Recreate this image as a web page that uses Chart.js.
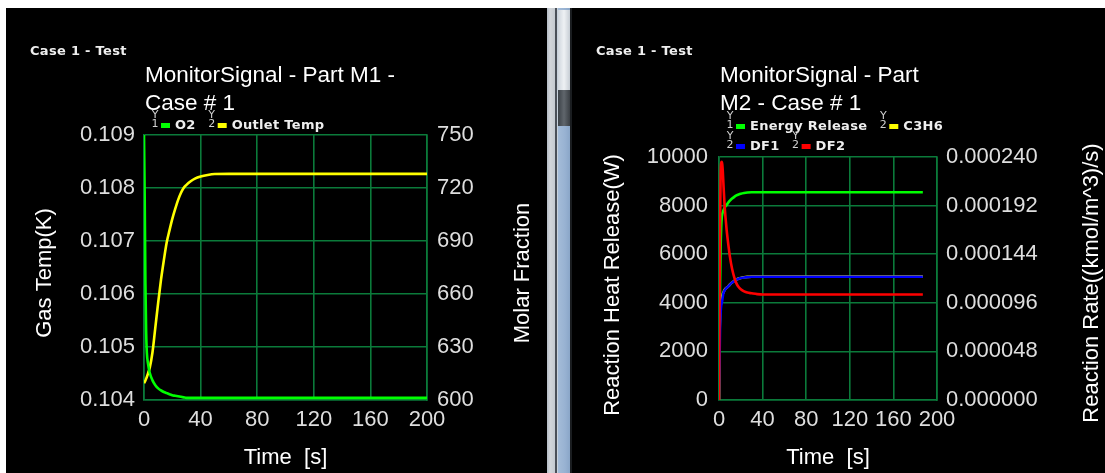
<!DOCTYPE html>
<html>
<head>
<meta charset="utf-8">
<script src="https://cdn.jsdelivr.net/npm/chart.js@4.4.1/dist/chart.umd.min.js"></script>
<style>
  html, body { margin: 0; padding: 0; background: #ffffff; width: 1105px; height: 473px; overflow: hidden; }
  .panel { position: absolute; top: 8px; height: 465px; background: #000000; }
  #panelM1 { left: 6px; width: 541px; }
  #panelM2 { left: 572px; width: 533px; }
  #splitter { position: absolute; left: 547px; top: 8px; width: 25px; height: 465px;
    background: linear-gradient(to right, #b4bcc6 0px, #d2d6da 3px, #c4cad0 8px, #4a5058 8px, #4a5058 10px, #c8d2dc 10px, #c8d2dc 11px, #a4bcd8 11px, #98b2d2 18px, #8aa6c8 23px, #1a1d20 23px); }
  #thumbLight { position: absolute; left: 558px; top: 10px; width: 12px; height: 80px; background: linear-gradient(to right, #cfd6dd, #eef1f4, #c6cdd4); }
  #thumbDark { position: absolute; left: 558px; top: 90px; width: 12px; height: 36px; background: linear-gradient(to right, #3c4248, #60666c, #3a3f44); }
</style>
</head>
<body>
<div id="splitter"></div>
<div id="thumbLight"></div>
<div id="thumbDark"></div>
<div class="panel" id="panelM1"><canvas id="chartM1" width="541" height="465"></canvas></div>
<div class="panel" id="panelM2"><canvas id="chartM2" width="533" height="465"></canvas></div>
<script>
// ---- Part M1 monitor signals ----
const timeM1 = [0, 0.5, 1, 1.5, 2, 3, 4, 6, 8, 10, 12, 14, 16, 18, 20, 22, 24, 26, 28, 30,
                33, 36, 40, 45, 50, 60, 80, 100, 120, 140, 160, 180, 200];
const o2 = [0.10900, 0.10780, 0.10620, 0.10530, 0.10490, 0.10466, 0.10452, 0.10437, 0.10428, 0.10422,
            0.10418, 0.10415, 0.10413, 0.10411, 0.10409, 0.10408, 0.10407, 0.10406, 0.10405, 0.10404,
            0.10404, 0.10404, 0.10404, 0.10404, 0.10404, 0.10404, 0.10404, 0.10404, 0.10404, 0.10404,
            0.10404, 0.10404, 0.10404];
const outletTemp = [609.5, 610.2, 611.0, 612.0, 613.0, 615.5, 618.0, 627.0, 641.0, 655.0,
                    668.0, 679.0, 689.0, 696.0, 702.5, 708.0, 713.0, 717.0, 720.0, 721.8,
                    723.8, 725.3, 726.5, 727.4, 727.9, 728.0, 728.0, 728.0, 728.0, 728.0,
                    728.0, 728.0, 728.0];

// ---- Part M2 monitor signals ----
const timeM2 = [0, 0.5, 1, 1.5, 2, 2.5, 3, 3.5, 4, 5, 6, 7, 8, 10, 12, 14, 16, 18, 20, 23,
                26, 30, 35, 40, 50, 60, 80, 100, 120, 140, 160, 187];
const energyRelease = [0, 2500, 4800, 6300, 7100, 7500, 7650, 7730, 7800, 7900, 7970, 8030, 8090, 8200,
                       8290, 8360, 8420, 8460, 8490, 8520, 8540, 8550, 8550, 8550, 8550, 8550, 8550,
                       8550, 8550, 8550, 8550, 8550];
const c3h6 = [0, 0.000060, 0.000084, 0.000093, 0.000098, 0.000101, 0.000103, 0.000105, 0.000106,
              0.0001085, 0.0001099, 0.0001109, 0.0001117, 0.0001141, 0.0001161, 0.0001176, 0.0001190,
              0.0001200, 0.0001206, 0.0001212, 0.0001216, 0.0001219, 0.0001220, 0.0001220, 0.0001220,
              0.0001220, 0.0001220, 0.0001220, 0.0001220, 0.0001220, 0.0001220, 0.0001220];
const df1 = [0, 0.000040, 0.000072, 0.000086, 0.000093, 0.0000955, 0.0000985, 0.0001022, 0.0001054,
             0.0001080, 0.0001097, 0.0001108, 0.0001116, 0.0001140, 0.0001160, 0.0001174, 0.0001188,
             0.0001198, 0.0001204, 0.0001210, 0.0001214, 0.0001217, 0.0001218, 0.0001218, 0.0001218,
             0.0001218, 0.0001218, 0.0001218, 0.0001218, 0.0001218, 0.0001218, 0.0001218];
const df2 = [0, 0.000096, 0.000180, 0.000223, 0.000234, 0.0002352, 0.0002328, 0.0002256, 0.0002148,
             0.0001944, 0.0001800, 0.0001680, 0.0001584, 0.0001416, 0.0001296, 0.0001212, 0.0001152,
             0.0001116, 0.0001094, 0.0001073, 0.0001061, 0.0001054, 0.0001046, 0.0001042, 0.0001042,
             0.0001042, 0.0001042, 0.0001042, 0.0001042, 0.0001042, 0.0001042, 0.0001042];

// ---- axis ticks ----
const timeTicks = [0, 40, 80, 120, 160, 200];
const m1LeftTicks = [0.104, 0.105, 0.106, 0.107, 0.108, 0.109];
const m1RightTicks = [600, 630, 660, 690, 720, 750];
const m2LeftTicks = [0, 2000, 4000, 6000, 8000, 10000];
const m2RightTicks = [0, 0.000048, 0.000096, 0.000144, 0.000192, 0.000240];

const caseLabel = 'Case 1 - Test';
const headingM1 = ['MonitorSignal - Part M1 -', 'Case # 1'];
const headingM2 = ['MonitorSignal - Part', 'M2 - Case # 1'];

const SANS = '"Liberation Sans", Arial, sans-serif';
const SMALL = '"DejaVu Sans", sans-serif';
const GRID = '#0b7a3a';
const TICK_COLOR = '#dedede';

Chart.defaults.font.family = SANS;

// Draws the case label, the wrapped heading, the axis-tagged legend and the
// bottom-to-top titles of both value axes
const panelText = {
  id: 'panelText',
  afterDraw(chart, args, opts) {
    const ctx = chart.ctx;
    const area = chart.chartArea;
    const sets = chart.data.datasets;
    ctx.save();
    ctx.textBaseline = 'middle';
    ctx.textAlign = 'left';
    ctx.fillStyle = '#eeeeee';
    ctx.font = 'bold 13px ' + SMALL;
    ctx.letterSpacing = '0.3px';
    ctx.fillText(opts.caseLabel, 24, 44);
    ctx.letterSpacing = '0px';

    ctx.fillStyle = '#ffffff';
    ctx.font = '22.5px ' + SANS;
    opts.heading.forEach((line, i) => ctx.fillText(line, area.left + 1, 68 + i * 28));

    opts.legendRows.forEach((row, r) => {
      const y = opts.legendTop + r * 20;
      let x = area.left + 11;
      row.forEach(idx => {
        const ds = sets[idx];
        const axisNo = ds.yAxisID === 'y' ? '1' : '2';
        ctx.letterSpacing = '0px';
        ctx.font = '11px ' + SMALL;
        ctx.textAlign = 'center';
        ctx.fillStyle = '#d0d0d0';
        ctx.fillText('Y', x, y - 11);
        ctx.fillText(axisNo, x, y - 2);
        ctx.fillStyle = ds.borderColor;
        ctx.fillRect(x + 6, y - 3, 9, 5);
        ctx.font = 'bold 13px ' + SMALL;
        ctx.letterSpacing = '0.3px';
        ctx.textAlign = 'left';
        ctx.fillStyle = '#eeeeee';
        ctx.fillText(ds.label, x + 20, y);
        x += 20 + ctx.measureText(ds.label).width + 16;
      });
    });

    ctx.letterSpacing = '0px';
    ctx.font = '22px ' + SANS;
    ctx.fillStyle = '#ffffff';
    ctx.textAlign = 'center';
    opts.axisTitles.forEach(t => {
      ctx.save();
      ctx.translate(t.x, t.y);
      ctx.rotate(-Math.PI / 2);
      ctx.fillText(t.text, 0, 0);
      ctx.restore();
    });
    ctx.restore();
  }
};

function fixedTicks(values) {
  return scale => { scale.ticks = values.map(v => ({ value: v })); };
}

function buildChart(id, cfg) {
  const tickFont = { family: SANS, size: 22 };
  const titleFont = { family: SANS, size: 22 };
  return new Chart(document.getElementById(id), {
    type: 'line',
    data: { datasets: cfg.datasets },
    options: {
      responsive: false,
      animation: false,
      devicePixelRatio: 1,
      layout: { padding: { top: cfg.plotTop, left: 0, right: 0, bottom: 0 } },
      elements: {
        point: { radius: 0 },
        line: { borderWidth: 2.6, cubicInterpolationMode: 'monotone', fill: false }
      },
      plugins: {
        legend: { display: false },
        tooltip: { enabled: false },
        panelText: {
          caseLabel: caseLabel, heading: cfg.heading, legendRows: cfg.legendRows, legendTop: cfg.legendTop,
          axisTitles: [
            { text: cfg.left.title, x: cfg.left.titleX, y: cfg.left.titleY },
            { text: cfg.right.title, x: cfg.right.titleX, y: cfg.right.titleY }
          ]
        }
      },
      scales: {
        x: {
          type: 'linear', min: 0, max: 200,
          afterBuildTicks: fixedTicks(timeTicks),
          afterFit: s => { s.height = cfg.xAxisHeight; },
          grid: { color: GRID, lineWidth: 1.6, drawTicks: false },
          border: { color: GRID, width: 1.6 },
          ticks: { color: TICK_COLOR, font: tickFont, padding: 7, autoSkip: false, maxRotation: 0,
                   callback: v => String(v) },
          title: { display: true, text: 'Time  [s]', color: '#ffffff', font: titleFont, padding: { top: 0, bottom: 2 } }
        },
        y: {
          position: 'left', min: cfg.left.ticks[0], max: cfg.left.ticks[cfg.left.ticks.length - 1],
          afterBuildTicks: fixedTicks(cfg.left.ticks),
          afterFit: s => { s.width = cfg.left.width; },
          grid: { color: GRID, lineWidth: 1.6, drawTicks: false },
          border: { color: GRID, width: 1.6 },
          ticks: { color: TICK_COLOR, font: tickFont, padding: cfg.left.pad, callback: cfg.left.format }
        },
        y2: {
          position: 'right', min: cfg.right.ticks[0], max: cfg.right.ticks[cfg.right.ticks.length - 1],
          afterBuildTicks: fixedTicks(cfg.right.ticks),
          afterFit: s => { s.width = cfg.right.width; },
          grid: { drawOnChartArea: false, drawTicks: false, color: GRID },
          border: { color: GRID, width: 1.6 },
          ticks: { color: TICK_COLOR, font: tickFont, padding: cfg.right.pad, callback: cfg.right.format }
        }
      }
    },
    plugins: [panelText]
  });
}

function series(label, xs, ys, color, axis, order) {
  return { label, data: xs.map((t, i) => ({ x: t, y: ys[i] })), borderColor: color, backgroundColor: color, yAxisID: axis, order };
}

buildChart('chartM1', {
  plotTop: 127, xAxisHeight: 73, legendTop: 118,
  heading: headingM1,
  legendRows: [[0, 1]],
  datasets: [
    series('O2', timeM1, o2, '#00ff00', 'y', 0),
    series('Outlet Temp', timeM1, outletTemp, '#ffff00', 'y2', 1)
  ],
  left: { ticks: m1LeftTicks, width: 138, pad: 9, title: 'Gas Temp(K)', titleX: 39, titleY: 265,
          format: v => Number(v).toFixed(3) },
  right: { ticks: m1RightTicks, width: 120, pad: 10, title: 'Molar Fraction', titleX: 517, titleY: 265,
           format: v => String(Math.round(v)) }
});

buildChart('chartM2', {
  plotTop: 149, xAxisHeight: 73, legendTop: 119,
  heading: headingM2,
  legendRows: [[0, 1], [2, 3]],
  datasets: [
    series('Energy Release', timeM2, energyRelease, '#00ff00', 'y', 2),
    series('C3H6', timeM2, c3h6, '#ffff00', 'y2', 3),
    series('DF1', timeM2, df1, '#0000ff', 'y2', 1),
    series('DF2', timeM2, df2, '#ff0000', 'y2', 0)
  ],
  left: { ticks: m2LeftTicks, width: 147, pad: 11, title: 'Reaction Heat Release(W)', titleX: 41, titleY: 277,
          format: v => String(Math.round(v)) },
  right: { ticks: m2RightTicks, width: 168, pad: 9, title: 'Reaction Rate((kmol/m^3)/s)', titleX: 520, titleY: 275,
           format: v => Number(v).toFixed(6) }
});
</script>
</body>
</html>
